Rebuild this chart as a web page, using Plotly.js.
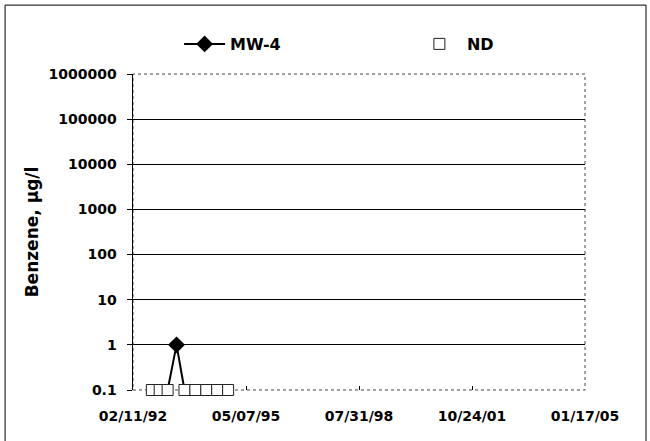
<!DOCTYPE html>
<html>
<head>
<meta charset="utf-8">
<script src="https://cdn.plot.ly/plotly-3.0.1.min.js"></script>
<style>html,body{margin:0;padding:0;background:#fff;}#chart{width:650px;height:441px;}</style>
</head>
<body>
<div id="chart"></div>
<script>
// Sample dates (monitoring events at MW-4)
var sampleDates = ['1992-08-26','1992-11-16','1993-02-07','1993-05-11','1993-08-02','1993-11-24','1994-03-18','1994-07-10','1994-11-01'];
// MW-4 benzene (ug/l); non-detects plotted at 0.1
var mw4Values = [0.1, 0.1, 0.1, 1, 0.1, 0.1, 0.1, 0.1, 0.1];
// Non-detect dates and plotted value
var ndDates = ['1992-08-26','1992-11-16','1993-02-07','1993-08-02','1993-11-24','1994-03-18','1994-07-10','1994-11-01'];
var ndValues = [0.1, 0.1, 0.1, 0.1, 0.1, 0.1, 0.1, 0.1];
// Axis ticks
var xTickVals = ['1992-02-11','1995-05-07','1998-07-31','2001-10-24','2005-01-17'];
var xTickText = ['02/11/92','05/07/95','07/31/98','10/24/01','01/17/05'];
var yTickVals = [0.1, 1, 10, 100, 1000, 10000, 100000, 1000000];
var yTickText = ['0.1','1','10','100','1000','10000','100000','1000000'];
var ndLevel = 0.1;

var FONT = 'DejaVu Sans, sans-serif';
// show diamonds only for detected values
var detectIdx = [];
mw4Values.forEach(function(v, i){ if (v > ndLevel) detectIdx.push(i); });

var traces = [
  {
    x: sampleDates, y: mw4Values, name: 'MW-4', type: 'scatter', mode: 'lines+markers',
    line: {color: '#000', width: 2},
    marker: {symbol: 'diamond', color: '#000', size: 13, line: {width: 0}},
    selectedpoints: detectIdx,
    selected: {marker: {opacity: 1}},
    unselected: {marker: {opacity: 0}},
    cliponaxis: false,
    legend: 'legend'
  },
  {
    x: ndDates, y: ndValues, name: 'ND', type: 'scatter', mode: 'markers',
    marker: {symbol: 'square', color: '#fff', size: 11, line: {color: '#222', width: 1}},
    cliponaxis: false,
    legend: 'legend2'
  }
];

var legendFont = {family: FONT, size: 16, color: '#000', weight: 'bold'};
var tickFont = {family: FONT, size: 14, color: '#000', weight: 'bold'};

var layout = {
  width: 650, height: 441,
  margin: {l: 133, r: 65, t: 74, b: 51, autoexpand: false},
  paper_bgcolor: '#fff', plot_bgcolor: '#fff',
  font: {family: FONT, color: '#000', size: 14},
  showlegend: true,
  legend: {
    orientation: 'h', x: 0.102, xanchor: 'left', y: 1.095, yanchor: 'middle',
    font: legendFont, itemwidth: 41,
    bgcolor: 'rgba(0,0,0,0)'
  },
  legend2: {
    orientation: 'h', x: 0.617, xanchor: 'left', y: 1.095, yanchor: 'middle',
    font: legendFont, itemwidth: 45,
    bgcolor: 'rgba(0,0,0,0)'
  },
  xaxis: {
    type: 'date', range: ['1992-02-11', '2005-01-17'],
    tickmode: 'array', tickvals: xTickVals, ticktext: xTickText,
    ticks: 'inside', ticklen: 4, tickcolor: '#000',
    showgrid: false, zeroline: false,
    showline: false,
    layer: 'below traces',
    tickfont: tickFont,
    ticklabelstandoff: 16
  },
  yaxis: {
    type: 'log', range: [-1, 6],
    tickmode: 'array', tickvals: yTickVals, ticktext: yTickText,
    ticks: 'outside', ticklen: 5, tickcolor: '#000',
    showgrid: true, gridcolor: '#000', gridwidth: 1,
    zeroline: false, showline: true, linecolor: '#000', linewidth: 1.5,
    layer: 'below traces',
    tickfont: tickFont,
    ticklabelstandoff: 7,
    title: {text: 'Benzene, µg/l', font: {family: FONT, size: 17, color: '#000', weight: 'bold'}, standoff: 5}
  },
  shapes: [
    {type: 'rect', xref: 'paper', yref: 'paper', x0: 0, x1: 1, y0: 0, y1: 1,
     line: {color: '#444', width: 1, dash: 'dot'}, layer: 'between'},
    {type: 'rect', xref: 'paper', yref: 'paper', x0: -0.283, x1: 1.135, y0: -0.2, y1: 1.218,
     line: {color: '#000', width: 1}}
  ]
};

Plotly.newPlot('chart', traces, layout, {displayModeBar: false, staticPlot: true});
</script>
</body>
</html>
